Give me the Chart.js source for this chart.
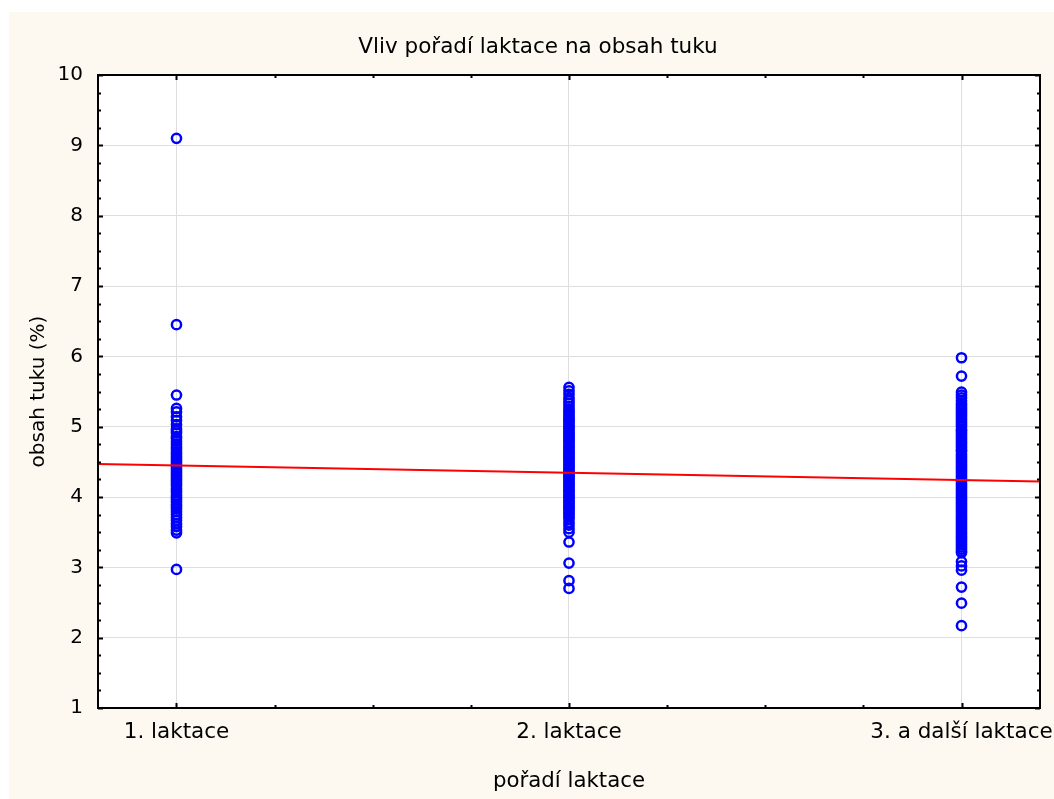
<!DOCTYPE html>
<html>
<head>
<meta charset="utf-8">
<script src="https://cdn.jsdelivr.net/npm/chart.js@4"></script>
<style>
  html, body { margin: 0; padding: 0; background: #fff; }
  canvas { display: block; }
</style>
</head>
<body>
<canvas id="chart" width="1054" height="799"></canvas>
<script>
// categories on the x axis (positions 1, 2, 3)
const categories = ['1. laktace', '2. laktace', '3. a další laktace'];
const xTickValues = [1, 2, 3];
const yTickValues = [1, 2, 3, 4, 5, 6, 7, 8, 9, 10];
const chartTitle = 'Vliv pořadí laktace na obsah tuku';

// fat content (%) per lactation order
const fat1 = [9.10, 6.45, 5.45, 5.26, 5.21, 5.14, 5.09, 5.03, 4.97, 4.94, 4.91, 4.86, 4.83, 4.79,
  4.75, 4.71, 4.68, 4.64, 4.61, 4.58, 4.55, 4.52, 4.49, 4.46, 4.43, 4.40, 4.37, 4.34, 4.31, 4.28,
  4.25, 4.22, 4.19, 4.16, 4.12, 4.09, 4.06, 4.02, 3.99, 3.96, 3.93, 3.89, 3.86, 3.83, 3.79, 3.75,
  3.71, 3.67, 3.62, 3.58, 3.53, 3.49, 2.97];
const fat2 = [5.56, 5.51, 5.46, 5.41, 5.37, 5.33, 5.29, 5.25, 5.22, 5.19, 5.16, 5.13, 5.10, 5.08,
  5.05, 5.02, 4.99, 4.97, 4.94, 4.91, 4.89, 4.86, 4.83, 4.81, 4.78, 4.75, 4.72, 4.70, 4.67, 4.64,
  4.62, 4.59, 4.56, 4.54, 4.51, 4.48, 4.45, 4.43, 4.40, 4.37, 4.35, 4.32, 4.29, 4.27, 4.24, 4.21,
  4.19, 4.16, 4.13, 4.10, 4.08, 4.05, 4.02, 4.00, 3.97, 3.94, 3.92, 3.89, 3.86, 3.84, 3.81, 3.78,
  3.75, 3.72, 3.69, 3.64, 3.60, 3.55, 3.50, 3.36, 3.06, 2.81, 2.70];
const fat3 = [5.98, 5.72, 5.49, 5.45, 5.41, 5.37, 5.33, 5.30, 5.27, 5.24, 5.21, 5.18, 5.15, 5.12,
  5.09, 5.06, 5.03, 5.00, 4.96, 4.94, 4.91, 4.88, 4.85, 4.82, 4.79, 4.76, 4.73, 4.70, 4.67, 4.65,
  4.61, 4.58, 4.55, 4.52, 4.49, 4.46, 4.43, 4.40, 4.37, 4.34, 4.31, 4.28, 4.25, 4.22, 4.19, 4.16,
  4.13, 4.10, 4.07, 4.04, 4.01, 3.98, 3.95, 3.92, 3.89, 3.86, 3.83, 3.80, 3.77, 3.74, 3.71, 3.68,
  3.65, 3.62, 3.59, 3.56, 3.53, 3.50, 3.47, 3.44, 3.41, 3.38, 3.35, 3.32, 3.29, 3.26, 3.23, 3.21,
  3.08, 3.02, 2.96, 2.72, 2.49, 2.17];

// red fitted line, end points at the plot edges
const fitX = [0.8, 3.2];
const fitY = [4.47, 4.22];

const FONT = 'DejaVu Sans';

const bgPlugin = {
  id: 'bg',
  beforeDraw(chart) {
    const { ctx, chartArea: a } = chart;
    ctx.save();
    ctx.fillStyle = '#ffffff';
    ctx.fillRect(0, 0, chart.width, chart.height);
    ctx.fillStyle = '#fdf9f0';
    ctx.fillRect(9, 12, chart.width - 9, chart.height - 12);
    ctx.fillStyle = '#ffffff';
    ctx.fillRect(a.left, a.top, a.right - a.left, a.bottom - a.top);
    // title, centred over the whole frame
    ctx.fillStyle = '#000';
    ctx.font = '21.5px "' + FONT + '"';
    ctx.textAlign = 'center';
    ctx.textBaseline = 'middle';
    ctx.fillText(chartTitle, 538, 47);
    ctx.restore();
  },
  afterDraw(chart) {
    const { ctx, chartArea: a } = chart;
    const xs = chart.scales.x, ys = chart.scales.y;
    ctx.save();
    ctx.strokeStyle = '#000';
    ctx.lineWidth = 2;
    ctx.strokeRect(a.left, a.top, a.right - a.left, a.bottom - a.top);
    ctx.beginPath();
    // inward ticks every 0.25
    for (let v = 1; v <= 3.2; v += 0.25) {
      const px = Math.round(xs.getPixelForValue(v)) + 0.5;
      const len = Number.isInteger(v) ? 5 : 3;
      ctx.moveTo(px, a.bottom); ctx.lineTo(px, a.bottom - len);
      ctx.moveTo(px, a.top); ctx.lineTo(px, a.top + len);
    }
    for (let v = 1; v <= 10; v += 0.25) {
      const py = Math.round(ys.getPixelForValue(v)) + 0.5;
      const len = Number.isInteger(v) ? 5 : 3;
      ctx.moveTo(a.left, py); ctx.lineTo(a.left + len, py);
      ctx.moveTo(a.right, py); ctx.lineTo(a.right - len, py);
    }
    ctx.stroke();
    ctx.restore();
  }
};

const pointStyle = {
  type: 'scatter',
  pointRadius: 4.6,
  pointHoverRadius: 4.6,
  pointBorderWidth: 2.5,
  borderColor: '#0000ff',
  backgroundColor: 'rgba(0,0,0,0)',
  pointBackgroundColor: 'rgba(0,0,0,0)',
  pointBorderColor: '#0000ff'
};

new Chart(document.getElementById('chart'), {
  type: 'scatter',
  data: {
    datasets: [
      {
        type: 'line',
        label: 'fit',
        data: fitX.map((x, i) => ({ x: x, y: fitY[i] })),
        borderColor: '#ff0000',
        borderWidth: 2,
        pointRadius: 0,
        fill: false
      },
      Object.assign({ label: categories[0], data: fat1.map(v => ({ x: 1, y: v })) }, pointStyle),
      Object.assign({ label: categories[1], data: fat2.map(v => ({ x: 2, y: v })) }, pointStyle),
      Object.assign({ label: categories[2], data: fat3.map(v => ({ x: 3, y: v })) }, pointStyle)
    ]
  },
  options: {
    responsive: false,
    animation: false,
    layout: { padding: { left: 0, right: 14, top: 75, bottom: 0 } },
    plugins: {
      legend: { display: false },
      tooltip: { enabled: false },
      title: { display: false }
    },
    scales: {
      x: {
        type: 'linear',
        min: 0.8,
        max: 3.2,
        afterBuildTicks: s => { s.ticks = xTickValues.map(v => ({ value: v })); },
        afterFit: s => { s.height = 91; s.paddingLeft = 0; s.paddingRight = 0; },
        grid: { color: '#dedede', lineWidth: 1, drawTicks: false },
        border: { display: false },
        ticks: {
          color: '#000',
          font: { family: FONT, size: 21.5 },
          padding: 12,
          maxRotation: 0,
          autoSkip: false,
          callback: v => categories[xTickValues.indexOf(v)]
        },
        title: {
          display: true,
          text: 'pořadí laktace',
          color: '#000',
          font: { family: FONT, size: 21.3 },
          padding: { top: 0, bottom: 5 }
        }
      },
      y: {
        min: 1,
        max: 10,
        afterBuildTicks: s => { s.ticks = yTickValues.map(v => ({ value: v })); },
        afterFit: s => { s.width = 98; s.paddingTop = 0; s.paddingBottom = 0; },
        grid: { color: '#dedede', lineWidth: 1, drawTicks: false },
        border: { display: false },
        ticks: {
          color: '#000',
          font: { family: FONT, size: 20 },
          padding: 15
        },
        title: {
          display: true,
          text: 'obsah tuku (%)',
          color: '#000',
          font: { family: FONT, size: 20 },
          padding: { top: 27, bottom: 0 }
        }
      }
    }
  },
  plugins: [bgPlugin]
});
</script>
</body>
</html>
